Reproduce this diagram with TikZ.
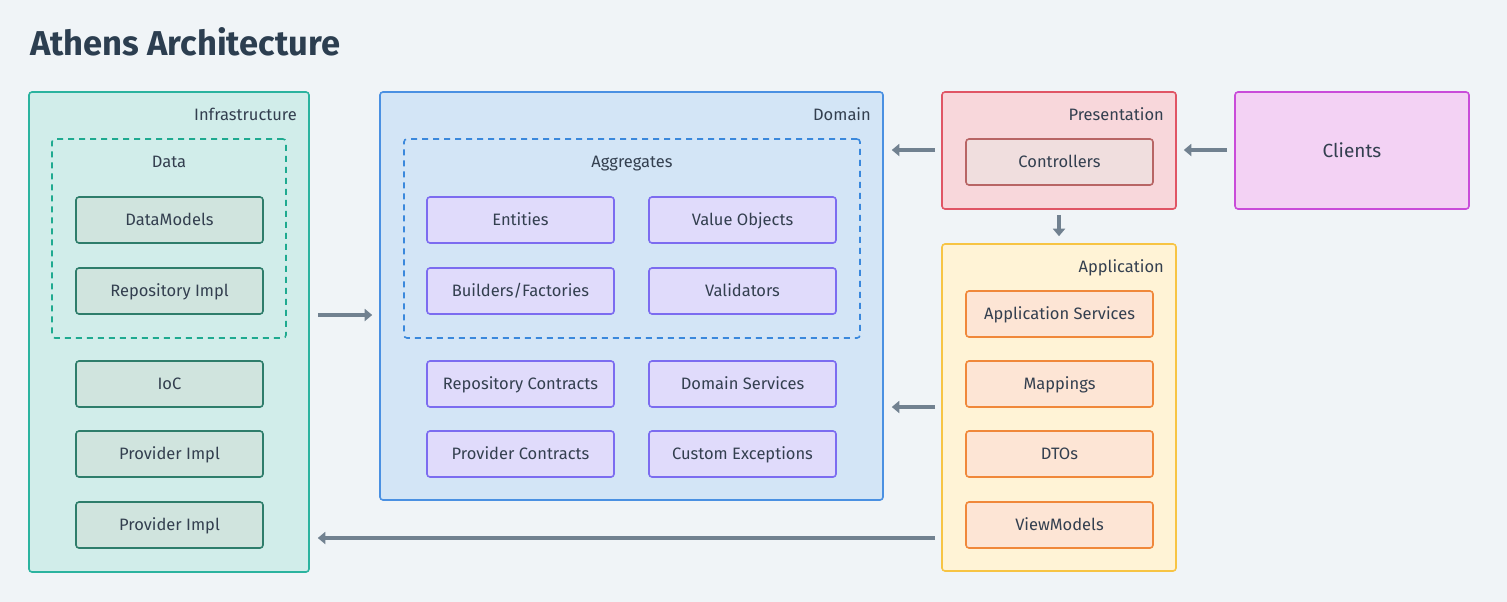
\documentclass[tikz,border=0pt]{standalone}
\usepackage{fontspec}
\setmainfont{Fira Sans}
\usetikzlibrary{arrows.meta,calc}
\definecolor{bg}{HTML}{F0F4F7}
\definecolor{titlec}{HTML}{2C3E50}
\definecolor{txt}{HTML}{333F4F}
\definecolor{infF}{HTML}{D1EDEA}
\definecolor{infB}{HTML}{2BB39F}
\definecolor{infD}{HTML}{1FAA90}
\definecolor{infiF}{HTML}{D0E4DE}
\definecolor{infiB}{HTML}{2E7D6B}
\definecolor{domF}{HTML}{D3E5F6}
\definecolor{domB}{HTML}{4A90E2}
\definecolor{domD}{HTML}{3A88DC}
\definecolor{domiF}{HTML}{E0DBFB}
\definecolor{domiB}{HTML}{7C6CF0}
\definecolor{preF}{HTML}{F8D7DB}
\definecolor{preB}{HTML}{E05565}
\definecolor{preiF}{HTML}{F0DEDE}
\definecolor{preiB}{HTML}{B86565}
\definecolor{cliF}{HTML}{F3D2F4}
\definecolor{cliB}{HTML}{C94CD9}
\definecolor{appF}{HTML}{FFF3D6}
\definecolor{appB}{HTML}{F7C444}
\definecolor{appiF}{HTML}{FDE5D5}
\definecolor{appiB}{HTML}{F0883A}
\definecolor{arrc}{HTML}{718190}
\tikzset{
  layer/.style={draw, line width=1.6pt, rounded corners=3pt, inner sep=0pt},
  group/.style={draw, dashed, dash pattern=on 6pt off 5pt, line width=1.6pt, rounded corners=3pt, inner sep=0pt},
  item/.style={draw, line width=1.6pt, rounded corners=3pt, minimum width=187pt, minimum height=46pt, inner sep=0pt, font=\fontsize{16.5}{18}\selectfont, text=txt, text height=13.5pt, text depth=2pt},
  infitem/.style={item, fill=infiF, draw=infiB},
  domitem/.style={item, fill=domiF, draw=domiB},
  appitem/.style={item, fill=appiF, draw=appiB},
  lbl/.style={font=\fontsize{16.5}{18}\selectfont, text=txt, inner sep=0pt, text height=13.5pt, text depth=2pt},
  arr/.style={draw=arrc, line width=3.2pt, -{Triangle[length=7.5pt,width=12pt]}},
}
\begin{document}
\begin{tikzpicture}[x=1pt,y=-1pt]
\useasboundingbox[fill=bg] (0,0) rectangle (1507,602);
\node[anchor=base west, inner sep=0pt, font=\fontsize{34.5}{38}\selectfont\bfseries, text=titlec] (title) at (30,56) {Athens Architecture};

% Infrastructure
\node[layer, fill=infF, draw=infB, minimum width=280pt, minimum height=480pt] (infra) at (169,332) {};
\node[lbl, anchor=east] (infralbl) at (297,115) {Infrastructure};
\node[group, draw=infD, minimum width=234pt, minimum height=199pt] (data) at (169,238.5) {};
\node[lbl] (datalbl) at (169,162) {Data};
\node[infitem] (dm) at (169.5,220) {DataModels};
\node[infitem] (ri) at (169.5,291) {Repository Impl};
\node[infitem] (ioc) at (169.5,384) {IoC};
\node[infitem] (pi1) at (169.5,454) {Provider Impl};
\node[infitem] (pi2) at (169.5,525) {Provider Impl};

% Domain
\node[layer, fill=domF, draw=domB, minimum width=503pt, minimum height=408pt] (domain) at (631.5,296) {};
\node[lbl, anchor=east] (domlbl) at (871,115) {Domain};
\node[group, draw=domD, minimum width=456pt, minimum height=199pt] (aggr) at (632,238.5) {};
\node[lbl] (aggrlbl) at (632,162) {Aggregates};
\node[domitem] (ent) at (520.5,220) {Entities};
\node[domitem] (vo) at (742.5,220) {Value Objects};
\node[domitem] (bf) at (520.5,291) {Builders/Factories};
\node[domitem] (val) at (742.5,291) {Validators};
\node[domitem] (rc) at (520.5,384) {Repository Contracts};
\node[domitem] (ds) at (742.5,384) {Domain Services};
\node[domitem] (pc) at (520.5,454) {Provider Contracts};
\node[domitem] (ce) at (742.5,454) {Custom Exceptions};

% Presentation
\node[layer, fill=preF, draw=preB, minimum width=234pt, minimum height=117pt] (pres) at (1059,150.5) {};
\node[lbl, anchor=east] (preslbl) at (1164,115) {Presentation};
\node[item, fill=preiF, draw=preiB] (ctrl) at (1059.5,162) {Controllers};

% Clients
\node[layer, fill=cliF, draw=cliB, minimum width=234pt, minimum height=117pt, font=\fontsize{19}{22}\selectfont, text=txt] (clients) at (1352,150.5) {Clients};

% Application
\node[layer, fill=appF, draw=appB, minimum width=234pt, minimum height=327pt] (app) at (1059,407.5) {};
\node[lbl, anchor=east] (applbl) at (1164,267) {Application};
\node[appitem] (as) at (1059.5,314) {Application Services};
\node[appitem] (map) at (1059.5,384) {Mappings};
\node[appitem] (dto) at (1059.5,454) {DTOs};
\node[appitem] (vm) at (1059.5,525) {ViewModels};

% Connectors
\draw[arr] ($(infra.east |- 0,315)+(8,0)$) -- ($(domain.west |- 0,315)+(-7,0)$);
\draw[arr] ($(pres.west |- 0,150)+(-6,0)$) -- ($(domain.east |- 0,150)+(8,0)$);
\draw[arr] ($(clients.west |- 0,150)+(-7,0)$) -- ($(pres.east |- 0,150)+(7,0)$);
\draw[arr] ($(pres.south)+(0,5)$) -- ($(app.north)+(0,-7)$);
\draw[arr] ($(app.west |- 0,407)+(-6,0)$) -- ($(domain.east |- 0,407)+(8,0)$);
\draw[arr] ($(app.west |- 0,538)+(-6,0)$) -- ($(infra.east |- 0,538)+(8,0)$);
\end{tikzpicture}
\end{document}
